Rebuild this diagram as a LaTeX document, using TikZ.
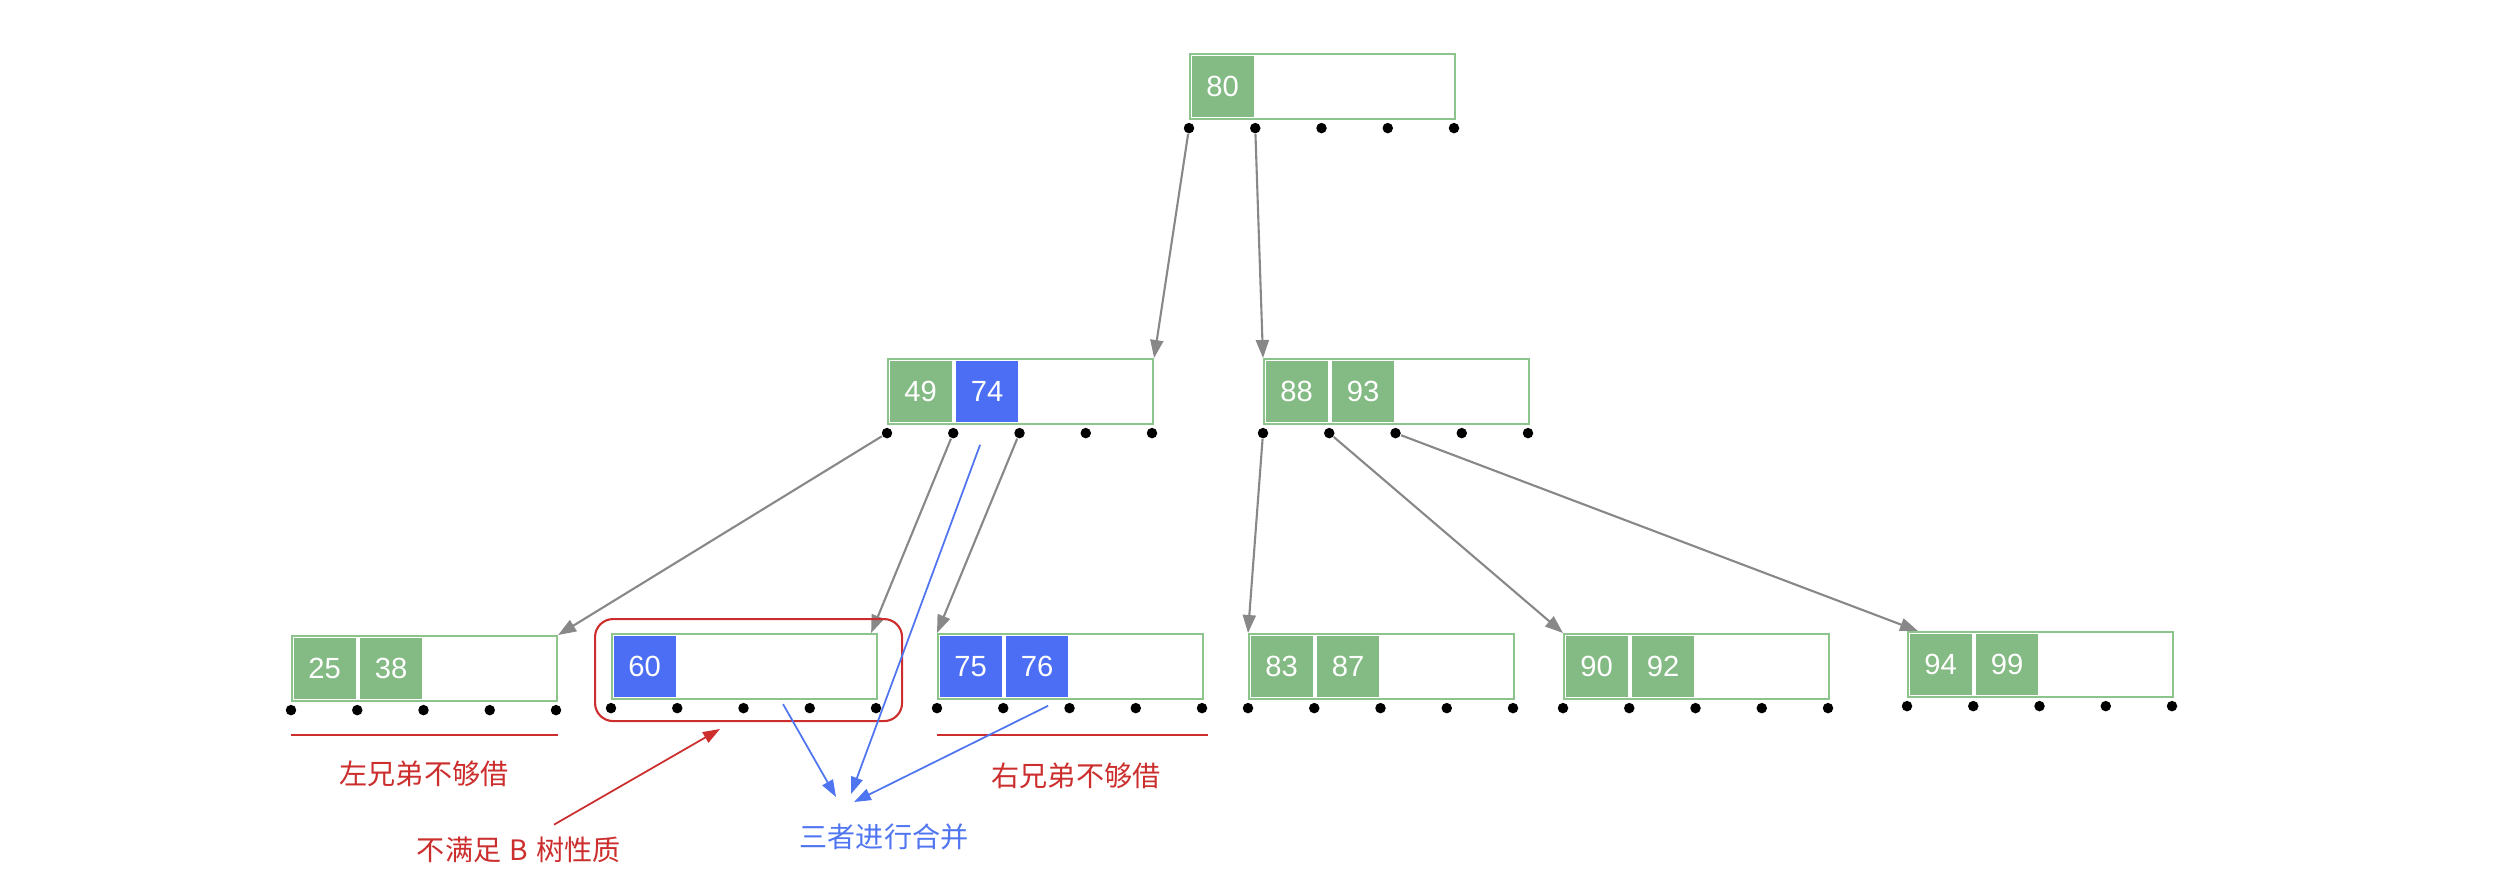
\documentclass[tikz,border=0pt]{standalone}
\usepackage{fontspec}
\setmainfont{Liberation Sans}
\newfontfamily\cjk{Noto Sans CJK SC}
\usetikzlibrary{positioning,arrows.meta}

\definecolor{keygreen}{HTML}{84BA84}
\definecolor{keyblue}{HTML}{4C6EF5}
\definecolor{boxgreen}{HTML}{8CC48C}
\definecolor{notered}{HTML}{CC2E2E}
\definecolor{mergeblue}{HTML}{5075F0}
\definecolor{linkgray}{HTML}{888888}

\begin{document}
\begin{tikzpicture}[
    keybox/.style={draw=boxgreen, line width=0.6pt, minimum width=2.65cm, minimum height=0.65cm, anchor=north west, inner sep=0},
    gkey/.style={fill=keygreen, minimum width=0.62cm, minimum height=0.61cm, inner sep=0, text=white, font=\fontsize{8.3}{10}\selectfont},
    bkey/.style={gkey, fill=keyblue},
    ptr/.style={circle, fill=black, inner sep=0, minimum size=0.105cm},
    link/.style={-{Triangle[length=0.18cm, width=0.13cm]}, linkgray, line width=0.6pt},
    merge/.style={-{Triangle[length=0.17cm, width=0.12cm]}, mergeblue, line width=0.5pt},
    note/.style={font=\cjk\fontsize{8}{10}\selectfont, text=notered}
]
    \useasboundingbox (0,0) rectangle (25.19,-8.88);

    % root and second level
    \node[keybox] (n80) at (11.89,-0.53) {};
    \node[gkey, anchor=west] (n80-1) at ([xshift=0.02cm]n80.west) {80};

    \node[keybox] (n49) at (8.87,-3.58) {};
    \node[gkey, anchor=west] (n49-1) at ([xshift=0.02cm]n49.west) {49};
    \node[bkey, right=0.03cm of n49-1] (n49-2) {74};

    % leaves with two green keys
    \foreach \n/\x/\y/\a/\b in {n88/12.63/-3.58/88/93, n25/2.91/-6.35/25/38, n83/12.48/-6.33/83/87, n90/15.63/-6.33/90/92, n94/19.07/-6.31/94/99} {
        \node[keybox] (\n) at (\x,\y) {};
        \node[gkey, anchor=west] (\n-1) at ([xshift=0.02cm]\n.west) {\a};
        \node[gkey, right=0.03cm of \n-1] (\n-2) {\b};
    }

    \node[keybox] (n60) at (6.11,-6.33) {};
    \node[bkey, anchor=west] (n60-1) at ([xshift=0.02cm]n60.west) {60};

    \node[keybox] (n75) at (9.37,-6.33) {};
    \node[bkey, anchor=west] (n75-1) at ([xshift=0.02cm]n75.west) {75};
    \node[bkey, right=0.03cm of n75-1] (n75-2) {76};

    % child pointers
    \foreach \n in {n80,n49,n88,n25,n60,n75,n83,n90,n94} {
        \foreach \i in {0,...,4}
            \path (\n.south west) ++(\i*0.6625,-0.08) node[ptr] (\n-p\i) {};
    }

    \draw[link] (n80-p0) -- (n49.north east);
    \draw[link] (n80-p1) -- (n88.north west);
    \draw[link] (n49-p0) -- (n25.north east);
    \draw[link] (n49-p1) -- ([xshift=-0.07cm]n60.north east);
    \draw[link] (n49-p2) -- (n75.north west);
    \draw[link] (n88-p0) -- (n83.north west);
    \draw[link] (n88-p1) -- (n90.north west);
    \draw[link] (n88-p2) -- ([xshift=0.11cm]n94.north west);

    % underflow and borrowing notes
    \node[draw=notered, line width=0.6pt, rounded corners=0.18cm, minimum width=3.07cm, minimum height=1.02cm, anchor=north west, inner sep=0] (lack) at (5.94,-6.18) {};
    \draw[notered, line width=0.5pt] ([yshift=-0.33cm]n25.south west) -- ([yshift=-0.33cm]n25.south east);
    \draw[notered, line width=0.5pt] ([yshift=-0.35cm]n75.south west) -- ([xshift=0.04cm, yshift=-0.35cm]n75.south east);

    \node[note] (lnote) at (4.24,-7.74) {左兄弟不够借};
    \node[note] (rnote) at (10.76,-7.76) {右兄弟不够借};
    \node[note] (fnote) at (5.19,-8.50) {不满足\hspace{0.3em}B\hspace{0.3em}树性质};
    \node[note, text=mergeblue] (mnote) at (8.84,-8.37) {三者进行合并};

    \coordinate (lackpt) at (7.20,-7.29);
    \draw[-{Triangle[length=0.17cm, width=0.12cm]}, notered, line width=0.5pt] ([xshift=0.35cm]fnote.north) -- (lackpt);

    % merge arrows
    \coordinate (from74) at ([shift={(-0.07,-0.22)}]n49-2.south);
    \coordinate (from60) at ([shift={(0.385,-0.04)}]n60.south);
    \coordinate (from76) at ([shift={(0.11,-0.08)}]n75-2.south);
    \coordinate (mg1) at (8.51,-7.94);
    \coordinate (mg2) at (8.36,-7.97);
    \coordinate (mg3) at (8.54,-8.02);
    \draw[merge] (from74) -- (mg1);
    \draw[merge] (from60) -- (mg2);
    \draw[merge] (from76) -- (mg3);
\end{tikzpicture}
\end{document}
